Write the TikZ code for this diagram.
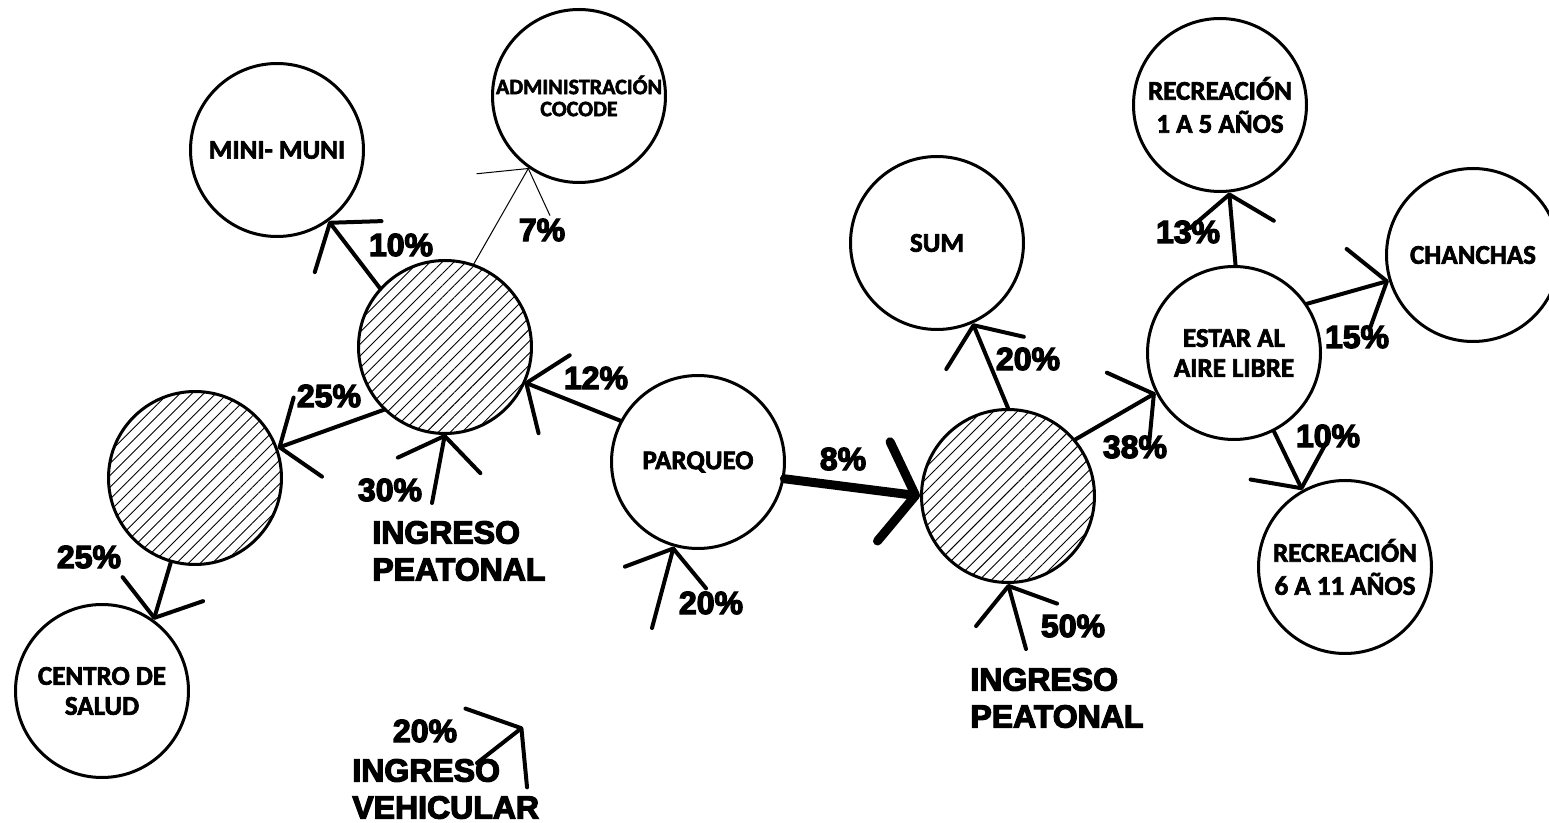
\documentclass[tikz,border=0pt]{standalone}
\usepackage{fontspec}
\usetikzlibrary{arrows.meta,patterns.meta}
\newfontfamily\lblfont{Carlito}[BoldFeatures={FakeBold=2.5}]
\newfontfamily\pctfont{Liberation Sans}[BoldFeatures={FakeBold=4}]
\tikzset{
  circ/.style={circle, draw, line width=1.5pt, minimum size=86.5pt, inner sep=0pt, align=center,
    font=\lblfont\bfseries\fontsize{13.5}{15}\selectfont},
  admfont/.style={font=\lblfont\bfseries\fontsize{11}{11}\selectfont},
  recfont/.style={font=\lblfont\bfseries\fontsize{13.5}{16.5}\selectfont},
  hatch/.style={circ, pattern={Lines[angle=45,distance=4.2pt,line width=0.45pt]}},
  arr/.style={line width=2pt, line cap=round, -{Straight Barb[length=15pt,width=42pt,round]}},
  arrthick/.style={line width=4.5pt, line cap=round, -{Straight Barb[length=16pt,width=50pt,round]}},
  pct/.style={font=\pctfont\bfseries\fontsize{16}{18}\selectfont, inner sep=0pt},
  ing/.style={font=\pctfont\bfseries\fontsize{16}{18.5}\selectfont, inner sep=0pt, align=left, anchor=west}
}
\begin{document}
\begin{tikzpicture}[x=0.5pt,y=-0.5pt]
\useasboundingbox (0,0) rectangle (1549,823);
\fill[white] (0,0) rectangle (1549,823);
\clip (0,0) rectangle (1549,823);

% circles
\node[circ] (mm) at (277,150) {MINI- MUNI};
\node[circ, admfont] (adm) at (579,96) {ADMINISTRACIÓN\\COCODE};
\node[hatch] (h1) at (445,347) {};
\node[hatch] (h2) at (195,478) {};
\node[circ] (cs) at (102,691) {CENTRO DE\\SALUD};
\node[circ] (pq) at (698,462) {PARQUEO};
\node[hatch] (h3) at (1008,496) {};
\node[circ] (sum) at (937,243) {SUM};
\node[circ] (est) at (1234,353) {ESTAR AL\\AIRE LIBRE};
\node[circ, recfont] (r1) at (1220,105) {RECREACIÓN\\1 A 5 AÑOS};
\node[circ] (ch) at (1473,255) {CHANCHAS};
\node[circ, recfont] (r2) at (1345,567) {RECREACIÓN\\6 A 11 AÑOS};

% free ends
\coordinate (in1) at (432,503);
\coordinate (in2) at (652,628);
\coordinate (in3) at (1026,649);
\coordinate (vt) at (477,763);
\coordinate (vh) at (523,727);

% connectors
\draw[arr] (h1.138.8) -- (mm.-54);
\draw[arr, line width=0.5pt] (h1.71) -- (adm.235);
\draw[arr] (h1.226) -- (h2.20.6);
\draw[arr] (in1) -- (h1.-90);
\draw[arr] (pq.152.8) -- (h1.-24.2);
\draw[arr] (h2.-106.4) -- (cs.54);
\draw[arr] (in2) -- (pq.-106);
\draw[arrthick] (pq.-11.4) -- (h3.180);
\draw[arr] (in3) -- (h3.-90);
\draw[arr] (h3.90) -- (sum.-66.7);
\draw[arr] (h3.40.9) -- (est.207.8);
\draw[arr] (est.89) -- (r1.-84.6);
\draw[arr] (est.34.4) -- (ch.197);
\draw[arr] (est.-63) -- (r2.119);
\draw[arr, -{Straight Barb[length=16pt,width=50pt,round]}] (vt) -- (vh);

% percentages
\node[pct] (p1) at (401,245) {10\%};
\node[pct] (p2) at (542,230) {7\%};
\node[pct] (p3) at (329,396) {25\%};
\node[pct] (p4) at (596,378) {12\%};
\node[pct] (p5) at (390,490) {30\%};
\node[pct] (p6) at (89,557) {25\%};
\node[pct] (p7) at (711,603) {20\%};
\node[pct] (p8) at (843,459) {8\%};
\node[pct] (p9) at (1028,359) {20\%};
\node[pct] (p10) at (1135,447) {38\%};
\node[pct] (p11) at (1188,232) {13\%};
\node[pct] (p12) at (1357,337) {15\%};
\node[pct] (p13) at (1328,436) {10\%};
\node[pct] (p14) at (1073,626) {50\%};
\node[pct] (p15) at (425,731) {20\%};

% entrance labels
\node[ing] (t1) at (372,551) {INGRESO\\PEATONAL};
\node[ing] (t2) at (970,698) {INGRESO\\PEATONAL};
\node[ing] (t3) at (352,789) {INGRESO\\VEHICULAR};
\end{tikzpicture}
\end{document}
